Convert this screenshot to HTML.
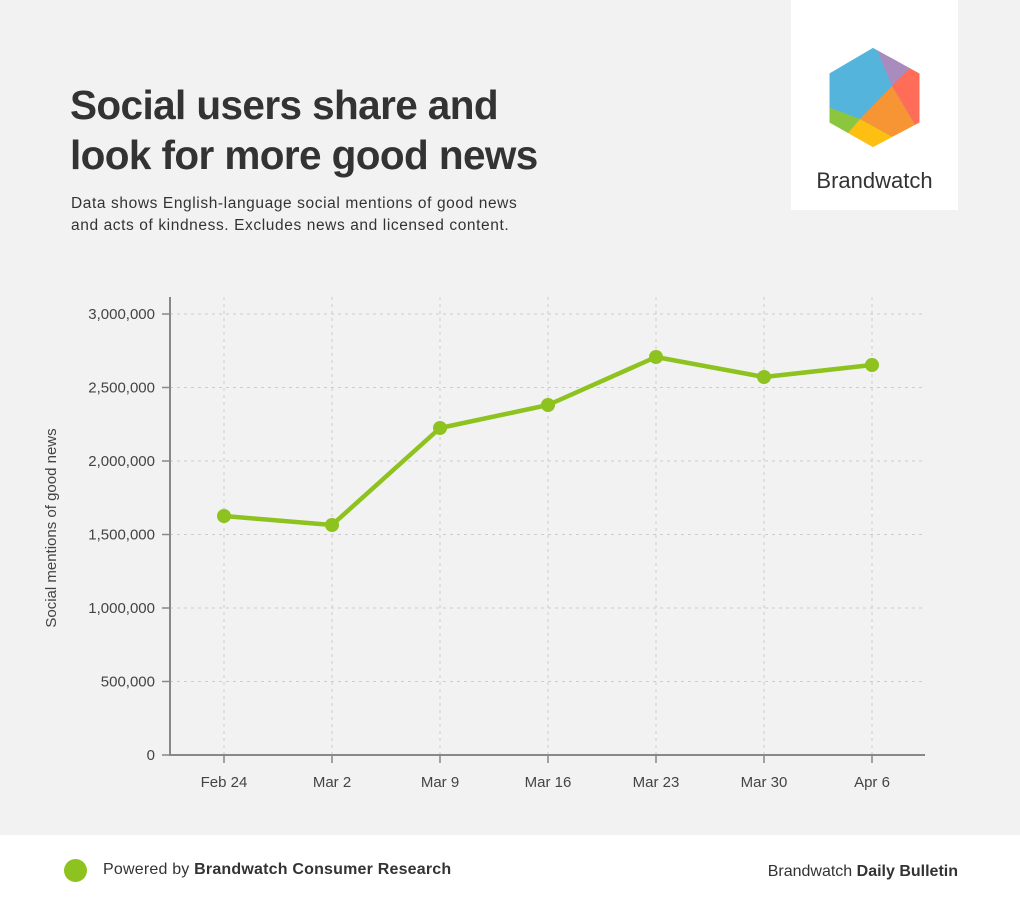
<!DOCTYPE html>
<html><head><meta charset="utf-8"><style>
body{margin:0;width:1020px;height:911px;background:#f2f2f2;font-family:"Liberation Sans",sans-serif;position:relative;overflow:hidden}
.t{position:absolute;left:70px;top:80px;font-size:40.5px;font-weight:bold;color:#333;line-height:50px;letter-spacing:-0.6px}
.s{position:absolute;left:71px;top:193px;font-size:15.5px;color:#333;line-height:22px;letter-spacing:0.6px}
.logo{position:absolute;left:791px;top:0;width:167px;height:210px;background:#fff}
.logo div{position:absolute;top:168px;width:100%;text-align:center;font-size:22px;color:#333}
.foot{position:absolute;left:0;top:835px;width:1020px;height:76px;background:#fff;font-size:16px;color:#333}
</style></head><body>
<div class="t">Social users share and<br>look for more good news</div>
<div class="s">Data shows English-language social mentions of good news<br>and acts of kindness. Excludes news and licensed content.</div>
<div class="logo"><div>Brandwatch</div></div>
<svg width="1020" height="911" style="position:absolute;left:0;top:0">
<defs><clipPath id="h"><polygon points="873,45 922,72 922,124 873,150 827,124 827,72"/></clipPath></defs>
<g clip-path="url(#h)">
<rect x="820" y="40" width="110" height="115" fill="#55b4dc"/>
<polygon points="873,40 930,40 930,60 912,66 892,86" fill="#a98bbd"/>
<polygon points="912,66 930,60 930,128 917,128 892,86" fill="#ff6c57"/>
<polygon points="892,86 917,128 898,140 860,119" fill="#f79433"/>
<polygon points="860,119 898,140 880,160 845,160 847,134" fill="#fdbf12"/>
<polygon points="820,104 860,119 847,134 845,160 820,160" fill="#8cc63f"/>
</g>
<polygon points="873,45 922,72 922,124 873,150 827,124 827,72" fill="none" stroke="#fff" stroke-width="5" stroke-linejoin="round"/>
<g stroke="#ccc" stroke-dasharray="3,4" stroke-width="1">
<line x1="170" x2="925" y1="314" y2="314"/><line x1="170" x2="925" y1="387.5" y2="387.5"/>
<line x1="170" x2="925" y1="461" y2="461"/><line x1="170" x2="925" y1="534.5" y2="534.5"/>
<line x1="170" x2="925" y1="608" y2="608"/><line x1="170" x2="925" y1="681.5" y2="681.5"/>
<line x1="224" x2="224" y1="297" y2="755"/><line x1="332" x2="332" y1="297" y2="755"/>
<line x1="440" x2="440" y1="297" y2="755"/><line x1="548" x2="548" y1="297" y2="755"/>
<line x1="656" x2="656" y1="297" y2="755"/><line x1="764" x2="764" y1="297" y2="755"/>
<line x1="872" x2="872" y1="297" y2="755"/>
</g>
<g stroke="#888" stroke-width="2">
<line x1="170" x2="170" y1="297" y2="756"/><line x1="169" x2="925" y1="755" y2="755"/>
</g>
<g stroke="#888" stroke-width="1.5">
<line x1="162" x2="170" y1="314" y2="314"/><line x1="162" x2="170" y1="387.5" y2="387.5"/>
<line x1="162" x2="170" y1="461" y2="461"/><line x1="162" x2="170" y1="534.5" y2="534.5"/>
<line x1="162" x2="170" y1="608" y2="608"/><line x1="162" x2="170" y1="681.5" y2="681.5"/>
<line x1="162" x2="170" y1="755" y2="755"/>
<line x1="224" x2="224" y1="755" y2="763"/><line x1="332" x2="332" y1="755" y2="763"/>
<line x1="440" x2="440" y1="755" y2="763"/><line x1="548" x2="548" y1="755" y2="763"/>
<line x1="656" x2="656" y1="755" y2="763"/><line x1="764" x2="764" y1="755" y2="763"/>
<line x1="872" x2="872" y1="755" y2="763"/>
</g>
<g font-size="15" fill="#444" text-anchor="end">
<text x="155" y="319">3,000,000</text><text x="155" y="392.5">2,500,000</text>
<text x="155" y="466">2,000,000</text><text x="155" y="539.5">1,500,000</text>
<text x="155" y="613">1,000,000</text><text x="155" y="686.5">500,000</text>
<text x="155" y="760">0</text>
</g>
<g font-size="15" fill="#444" text-anchor="middle">
<text x="224" y="787">Feb 24</text><text x="332" y="787">Mar 2</text><text x="440" y="787">Mar 9</text>
<text x="548" y="787">Mar 16</text><text x="656" y="787">Mar 23</text><text x="764" y="787">Mar 30</text>
<text x="872" y="787">Apr 6</text>
</g>
<text transform="translate(56,528) rotate(-90)" font-size="15" fill="#444" text-anchor="middle">Social mentions of good news</text>
<polyline points="224,516 332,525 440,428 548,405 656,357 764,377 872,365" fill="none" stroke="#8dc21f" stroke-width="4.5" stroke-linejoin="round"/>
<g fill="#8dc21f">
<circle cx="224" cy="516" r="7"/><circle cx="332" cy="525" r="7"/><circle cx="440" cy="428" r="7"/>
<circle cx="548" cy="405" r="7"/><circle cx="656" cy="357" r="7"/><circle cx="764" cy="377" r="7"/>
<circle cx="872" cy="365" r="7"/>
</g>
</svg>
<div class="foot">
<div style="position:absolute;left:64px;top:24px;width:23px;height:23px;border-radius:50%;background:#8dc21f"></div>
<div style="position:absolute;left:103px;top:26px;letter-spacing:0.2px">Powered by <b>Brandwatch Consumer Research</b></div>
<div style="position:absolute;right:62px;top:28px">Brandwatch <b>Daily Bulletin</b></div>
</div>
</body></html>
